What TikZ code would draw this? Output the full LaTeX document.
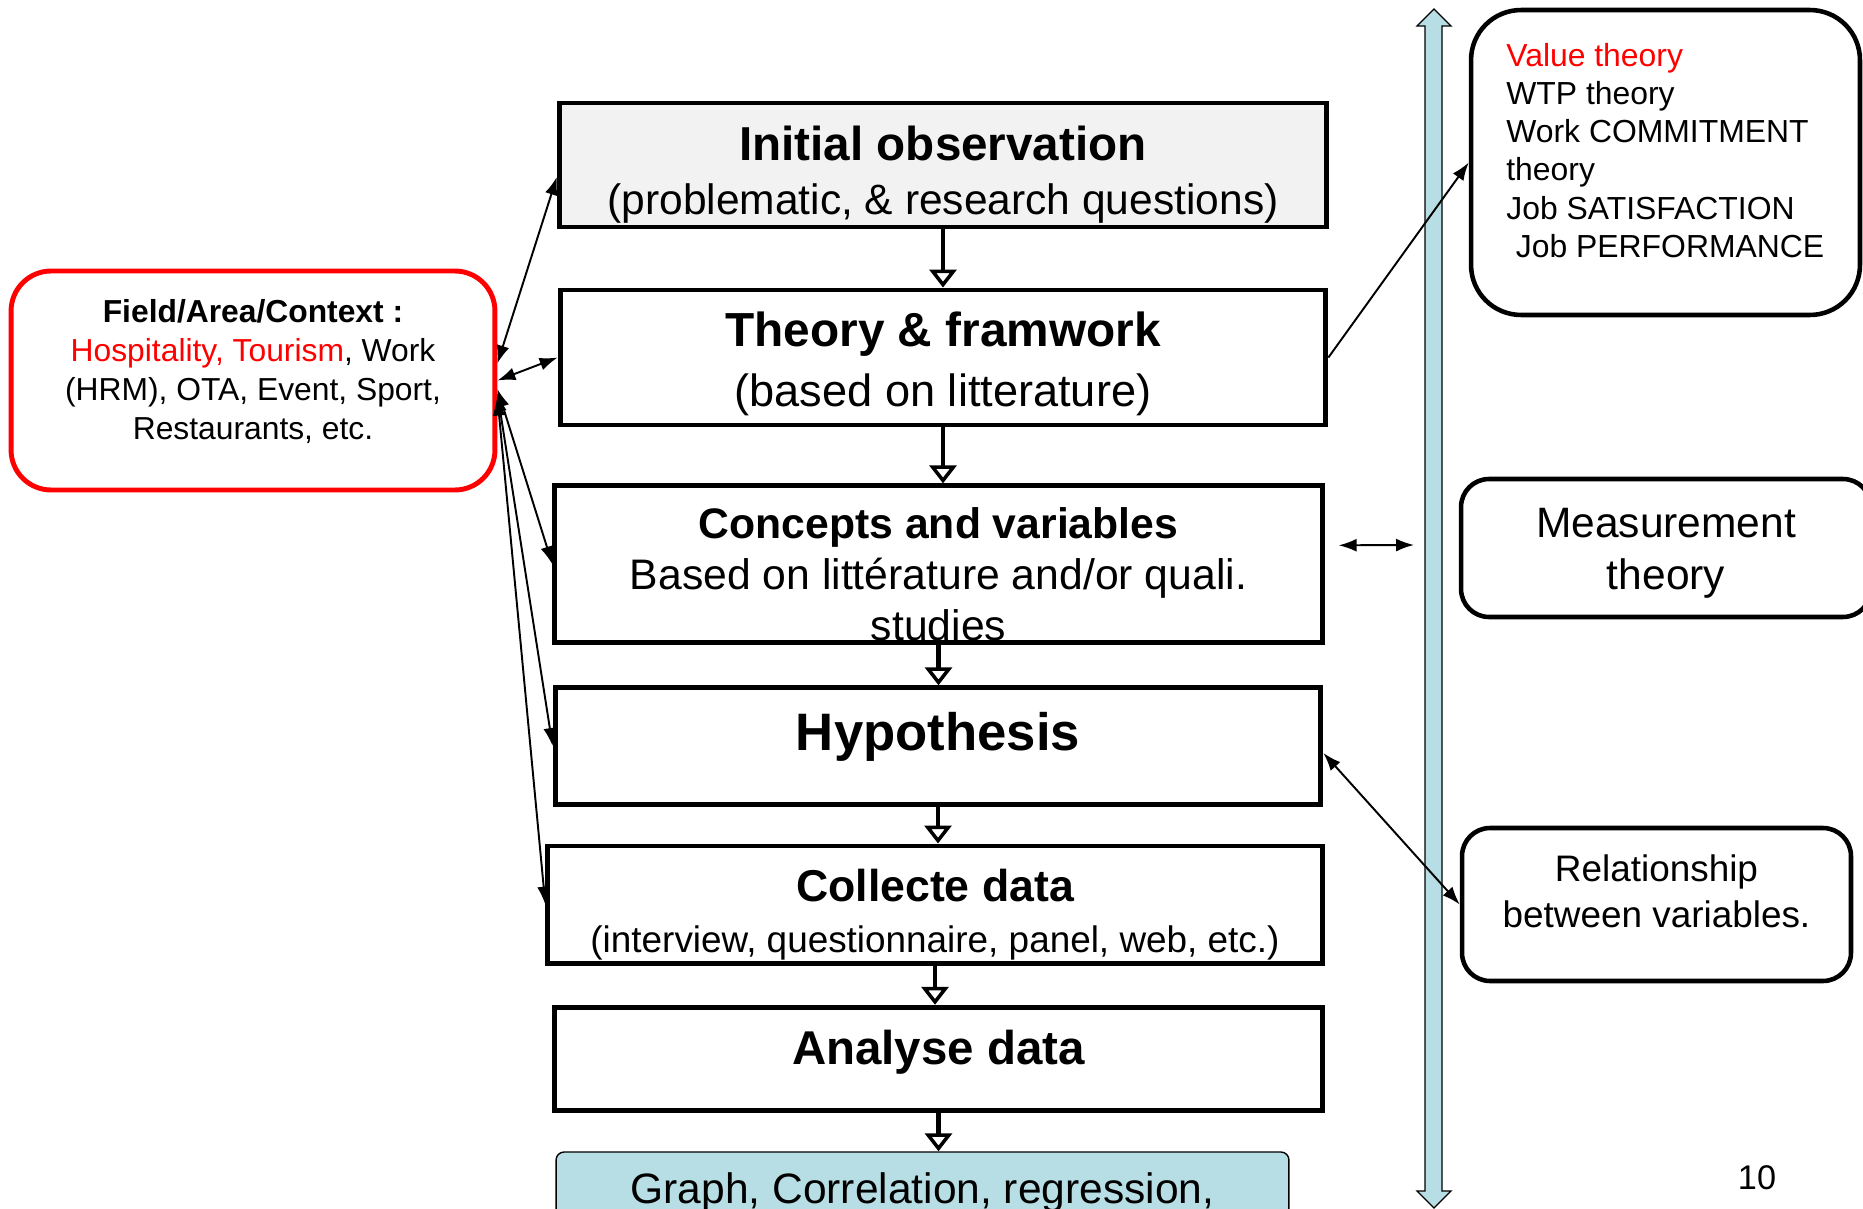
\documentclass[tikz,border=0pt]{standalone}
\usepackage{fontspec}
\setmainfont{Liberation Sans}
\usetikzlibrary{arrows.meta, positioning}
\definecolor{barblue}{RGB}{183,222,228}
\definecolor{obsgrey}{RGB}{242,242,242}
\newcommand{\fsz}[2]{\fontsize{#1}{#2}\selectfont}
\tikzset{stepbox/.style={draw=black, line width=2.8pt, inner sep=0pt}}
\tikzset{softbox/.style={draw=black, line width=2.6pt, rounded corners=0.56cm, inner sep=0pt}}
\tikzset{flow/.style={line width=2.6pt, -{Triangle[open, length=0.36cm, width=0.54cm, line width=2pt]}}}
\tikzset{link/.style={line width=1.1pt, {Latex[length=0.36cm, width=0.26cm]}-{Latex[length=0.36cm, width=0.26cm]}}}
\tikzset{linkto/.style={line width=1.1pt, -{Latex[length=0.36cm, width=0.26cm]}}}

\begin{document}
\begin{tikzpicture}[x=0.02cm, y=-0.02cm]
    \useasboundingbox (0,0) rectangle (1863,1209);

    % bar on the right
    \draw[fill=barblue, line width=0.7pt] (1425,26) -- (1417,26) -- (1434,9) -- (1451,26) -- (1442,26)
        -- (1442,1191) -- (1451,1191) -- (1434,1208) -- (1417,1191) -- (1425,1191) -- cycle;

    % main column
    \node[stepbox, fill=obsgrey, minimum width=15.35cm, minimum height=2.48cm] (init) at (943,165) {};
    \node[stepbox, minimum width=15.32cm, minimum height=2.7cm] (theory) at (943,357.5) {};
    \node[stepbox, minimum width=15.35cm, minimum height=3.14cm] (conc) at (938.5,564.3) {};
    \node[stepbox, minimum width=15.32cm, minimum height=2.33cm] (hyp) at (938,746) {};
    \node[stepbox, minimum width=15.49cm, minimum height=2.35cm] (coll) at (935,904.7) {};
    \node[stepbox, minimum width=15.35cm, minimum height=2.07cm] (anal) at (938.5,1059) {};
    \node[draw, fill=barblue, line width=0.8pt, rounded corners=0.16cm, minimum width=14.66cm, minimum height=1.6cm,
        font=\fsz{24.2}{29}] (graph) at (922.5,1192) {Graph, Correlation, regression,};

    \node[align=center, font=\fsz{24.2}{30.7}] (init-txt) at (943,175)
        {{\fsz{27.1}{30.7}\bfseries Initial observation}\\(problematic, \& research questions)};
    \node[align=center, font=\fsz{25.7}{34.1}] (theory-txt) at (943,364)
        {{\fsz{27.2}{34.1}\bfseries Theory \& framwork}\\(based on litterature)};
    \node[align=center, font=\fsz{24.3}{29}] (conc-txt) at (938.5,574)
        {{\bfseries Concepts and variables}\\Based on littérature and/or quali.\\studies};
    \node[font=\fsz{30}{36}\bfseries] (hyp-txt) at (938,737) {Hypothesis};
    \node[align=center, font=\fsz{21}{29}] (coll-txt) at (935,915)
        {{\fsz{25.4}{29}\bfseries Collecte data}\\(interview, questionnaire, panel, web, etc.)};
    \node[font=\fsz{27}{32}\bfseries] (anal-txt) at (938.5,1052) {Analyse data};

    % left box
    \node[draw=red, line width=2.8pt, rounded corners=0.8cm, minimum width=9.68cm, minimum height=4.38cm] (field) at (253,380.5) {};
    \node[align=center, font=\fsz{18.1}{22.2}] (field-txt) at (253,372)
        {{\bfseries Field/Area/Context :}\\\textcolor{red}{Hospitality, Tourism}, Work\\(HRM), OTA, Event, Sport,\\Restaurants, etc.};

    % right boxes
    \node[softbox, rounded corners=1cm, minimum width=7.78cm, minimum height=6.1cm] (value) at (1665.5,162.5) {};
    \node[align=left, anchor=west, inner sep=0pt, font=\fsz{18.15}{21.7}] (value-txt) at (1506,150.5)
        {\textcolor{red}{Value theory}\\WTP theory\\Work COMMITMENT\\theory\\Job SATISFACTION\\\hspace*{0.3em}Job PERFORMANCE};
    \node[softbox, minimum width=8.2cm, minimum height=2.76cm] (meas) at (1666,548) {};
    \node[align=center, font=\fsz{24.2}{29.6}] (meas-txt) at (1666,553) {Measurement\\theory};
    \node[softbox, minimum width=7.78cm, minimum height=3.06cm] (rel) at (1656.5,904.5) {};
    \node[align=center, font=\fsz{21}{26.2}] (rel-txt) at (1656.5,891) {Relationship\\between variables.};

    \node[font=\fsz{19.5}{23}] (pgnum) at (1757,1178) {10};

    % steps
    \draw[flow] (init.south) -- (init.south |- theory.north);
    \draw[flow] (theory.south) -- (theory.south |- conc.north);
    \draw[flow] (conc.south) -- (conc.south |- hyp.north);
    \draw[flow] (hyp.south) -- (hyp.south |- coll.north);
    \draw[flow] (coll.south) -- (coll.south |- anal.north);
    \draw[flow] (anal.south) -- (anal.south |- graph.north);

    % links
    \draw[link] (field.4) -- ([yshift=-0.24cm]init.west);
    \draw[link] (field.0) -- (theory.west);
    \draw[link] (field.-2) -- (conc.west);
    \draw[link] (field.-3) -- (hyp.west);
    \draw[link] (field.-4) -- (coll.west);
    \draw[linkto] (theory.east) -- (value.west);
    \coordinate (mleft) at ([xshift=0.28cm, yshift=0.38cm]conc.east);
    \coordinate (mright) at (1414,545);
    \draw[link] (mleft) -- (mright);
    \draw[link] ([yshift=-0.14cm]hyp.east) -- (rel.west);
\end{tikzpicture}
\end{document}
